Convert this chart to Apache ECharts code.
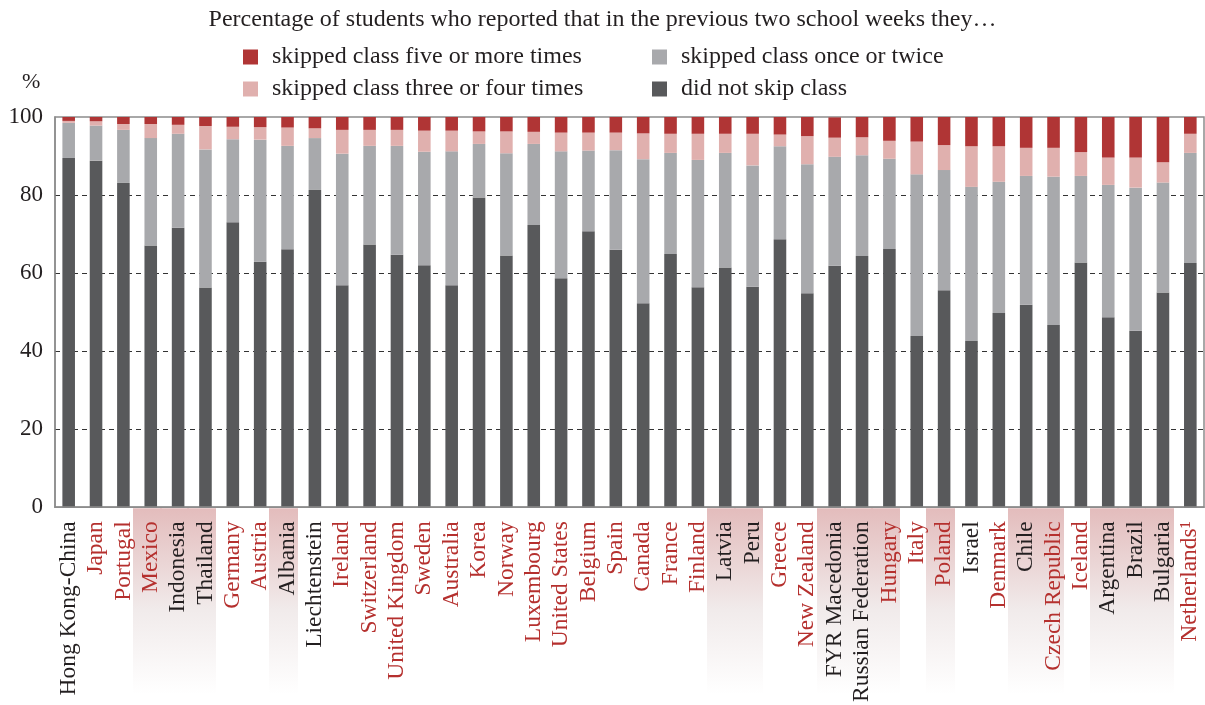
<!DOCTYPE html>
<html><head><meta charset="utf-8">
<script src="https://cdn.jsdelivr.net/npm/echarts@6/dist/echarts.min.js"></script>
<style>html,body{margin:0;padding:0;background:#fff}#c{width:1205px;height:705px}</style>
</head><body><div id="c"></div>
<script>
const categories = ['Hong Kong-China','Japan','Portugal','Mexico','Indonesia','Thailand','Germany','Austria','Albania','Liechtenstein','Ireland','Switzerland','United Kingdom','Sweden','Australia','Korea','Norway','Luxembourg','United States','Belgium','Spain','Canada','France','Finland','Latvia','Peru','Greece','New Zealand','FYR Macedonia','Russian Federation','Hungary','Italy','Poland','Israel','Denmark','Chile','Czech Republic','Iceland','Argentina','Brazil','Bulgaria','Netherlands\u00B9'];
const isOECD = [0,1,1,1,0,0,1,1,0,0,1,1,1,1,1,1,1,1,1,1,1,1,1,1,0,0,1,1,0,0,1,1,1,0,1,0,1,1,0,0,0,1];
const shaded = [3,4,5,8,24,25,28,29,30,32,35,36,38,39,40];
const didNotSkip = [89.5,88.8,83.1,67.1,71.6,56.3,73.0,62.9,66.1,81.3,56.9,67.3,64.7,62.0,56.9,79.4,64.5,72.3,58.7,70.7,66.0,52.3,64.9,56.4,61.4,56.5,68.7,54.8,61.9,64.4,66.2,43.9,55.6,42.6,49.8,51.9,46.7,62.7,48.7,45.2,55.0,62.6];
const onceTwice = [9.0,9.0,13.6,27.5,24.1,35.4,21.3,31.3,26.5,13.3,33.7,25.3,27.9,29.1,34.3,13.7,26.2,20.8,32.5,20.7,25.5,36.9,25.9,32.6,29.4,31.1,23.8,33.1,27.9,25.8,23.1,41.4,30.8,39.5,33.6,33.0,38.0,22.2,33.9,36.7,28.2,28.2];
const threeFour = [0.5,1.1,1.5,3.6,2.3,6.0,3.2,3.2,4.7,2.5,6.1,4.1,4.1,5.4,5.3,3.2,5.6,3.1,4.8,4.6,4.5,6.6,4.9,6.7,4.9,8.1,3.0,7.2,4.9,4.6,4.6,8.4,6.4,10.4,9.1,7.2,7.4,6.1,7.0,7.7,5.2,4.9];
const fivePlus = [1.0,1.1,1.8,1.8,2.0,2.3,2.5,2.6,2.7,2.9,3.3,3.3,3.3,3.5,3.5,3.7,3.7,3.8,4.0,4.0,4.0,4.2,4.3,4.3,4.3,4.3,4.5,4.9,5.2,5.2,6.1,6.3,7.2,7.5,7.5,7.9,7.9,9.0,10.4,10.4,11.6,4.3];
const yTicks = [0,20,40,60,80,100];

const FONT = "'Liberation Serif', 'DejaVu Serif', serif";
const TXT = '#231f20', RED_TXT = '#b5302e';
const C_FIVE = '#b03535', C_THREE = '#e0b0ae', C_ONCE = '#a8a9ac', C_DID = '#58595b';

const chart = echarts.init(document.getElementById('c'), null, {renderer:'canvas'});
const legendText = {fontFamily: FONT, fontSize: 24, color: TXT, lineHeight: 24, padding: [0,0,0,9]};
chart.setOption({
  animation: false,
  title: [
    {text: 'Percentage of students who reported that in the previous two school weeks they\u2026', left: 'center', top: 3,
     textStyle: {fontFamily: FONT, fontSize: 24, fontWeight: 'normal', color: TXT}},
    {text: '%', left: 17, top: 66, textStyle: {fontFamily: FONT, fontSize: 22, fontWeight: 'normal', color: TXT}}
  ],
  legend: [
    {data: ['skipped class five or more times','skipped class three or four times'], orient: 'vertical', left: 238, top: 40,
     itemWidth: 15, itemHeight: 15, itemGap: 8, icon: 'rect', textStyle: legendText, selectedMode: false},
    {data: ['skipped class once or twice','did not skip class'], orient: 'vertical', left: 647, top: 40,
     itemWidth: 15, itemHeight: 15, itemGap: 8, icon: 'rect', textStyle: legendText, selectedMode: false}
  ],
  grid: {left: 55, right: 1, top: 117, bottom: 197, show: true, borderColor: '#8c8c8c', borderWidth: 1.5},
  xAxis: {type: 'category', data: categories, z: 3,
    axisLine: {show: true, lineStyle: {color: '#8c8c8c', width: 1.5}}, axisTick: {show: false},
    axisLabel: {interval: 0, rotate: 90, margin: 14, fontFamily: FONT, fontSize: 23.5,
      color: (v, i) => isOECD[i] ? RED_TXT : TXT}},
  yAxis: {type: 'value', min: 0, max: 100, interval: 20,
    axisLine: {show: true, lineStyle: {color: '#8c8c8c', width: 1.5}}, axisTick: {show: false},
    axisLabel: {margin: 12, fontFamily: FONT, fontSize: 23, color: TXT, formatter: v => yTicks.includes(v) ? String(v) : ''},
    splitLine: {show: true, showMinLine: false, showMaxLine: false, lineStyle: {color: '#333', type: [5,4], width: 1}}},
  series: [
    {type: 'custom', z: 1, silent: true, clip: false, data: shaded.map(i => [i, 0]),
     renderItem: (params, api) => {
       const p = api.coord([api.value(0), 0]);
       const bw = api.size([1, 0])[0];
       return {type: 'rect', shape: {x: Math.floor(p[0] - bw/2 - 4), y: p[1] + 1, width: Math.ceil(bw) + 1, height: 186},
         style: {fill: new echarts.graphic.LinearGradient(0,0,0,1,[{offset:0,color:'#e3bcbc'},{offset:0.55,color:'#f1ebeb'},{offset:1,color:'#ffffff'}])}};
     }},
    {name: 'did not skip class', type: 'bar', stack: 's', data: didNotSkip, barWidth: '46%', itemStyle: {color: C_DID}},
    {name: 'skipped class once or twice', type: 'bar', stack: 's', data: onceTwice, itemStyle: {color: C_ONCE}},
    {name: 'skipped class three or four times', type: 'bar', stack: 's', data: threeFour, itemStyle: {color: C_THREE}},
    {name: 'skipped class five or more times', type: 'bar', stack: 's', data: fivePlus, itemStyle: {color: C_FIVE}}
  ]
});
</script></body></html>
